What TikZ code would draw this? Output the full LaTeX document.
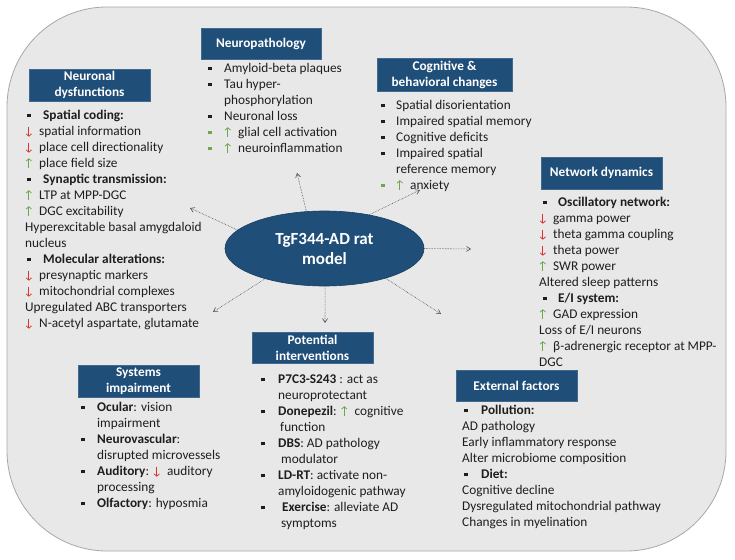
\documentclass[tikz,border=0pt]{standalone}
\usepackage{fontspec}
\setmainfont{Carlito}
\usetikzlibrary{arrows.meta,shapes.geometric}
\definecolor{bgc}{HTML}{E8E8E8}
\definecolor{bordc}{HTML}{A8A8A8}
\definecolor{navy}{HTML}{1F4E79}
\definecolor{redc}{HTML}{D9342B}
\definecolor{greenc}{HTML}{6AA84F}
\definecolor{txt}{HTML}{1E1E1E}
\newcommand{\sqb}[1][txt]{\textcolor{#1}{\rule[1.8pt]{3.6pt}{3.6pt}}}
\newcommand{\bul}[2]{\makebox[#2][l]{\hspace{#1}\sqb}}
\newcommand{\gbul}[2]{\makebox[#2][l]{\hspace{#1}\sqb[greenc]}}
\newcommand{\darr}{\makebox[14pt][l]{\hspace{0.5pt}\tikz[baseline=0pt]\draw[redc,line width=0.75pt,-{Straight Barb[length=2.4pt,width=5.5pt]}] (0pt,8.5pt)--(0pt,-1.5pt);}}
\newcommand{\uarr}{\makebox[14pt][l]{\hspace{0.5pt}\tikz[baseline=0pt]\draw[greenc,line width=0.75pt,-{Straight Barb[length=2.4pt,width=5.5pt]}] (0pt,-1pt)--(0pt,9pt);}}
\tikzset{
  titlebox/.style={fill=navy, draw=navy!85!white, line width=0.6pt, text=white,
    font=\fontsize{13.3}{16}\selectfont\bfseries, align=center, inner sep=0pt},
  body/.style={anchor=north west, inner sep=0pt, align=left,
    font=\fontsize{13.3}{16}\selectfont, text=txt},
  conn/.style={densely dotted, draw=black!70, line width=0.6pt,
    -{Straight Barb[length=4pt,width=5pt]}}
}
\begin{document}
\begin{tikzpicture}[x=1pt,y=-1pt]
\useasboundingbox (0,0) rectangle (735,559);
\fill[white] (0,0) rectangle (735,559);
\draw[fill=bgc, draw=bordc, line width=0.8pt, rounded corners=100pt] (7,7) rectangle (726,551);

% title boxes
\node[titlebox, minimum width=121pt, minimum height=32pt] (tnd) at (89.5,85) {Neuronal\\dysfunctions};
\node[titlebox, minimum width=120pt, minimum height=31pt] (tnp) at (261,43.5) {Neuropathology};
\node[titlebox, minimum width=135pt, minimum height=33pt] (tcg) at (444.5,74.5) {Cognitive \&\\behavioral changes};
\node[titlebox, minimum width=121pt, minimum height=32pt] (tnw) at (601.5,173) {Network dynamics};
\node[titlebox, minimum width=121pt, minimum height=32pt] (tsy) at (138.5,381) {Systems\\impairment};
\node[titlebox, minimum width=121pt, minimum height=31pt] (tin) at (312.5,347.5) {Potential\\interventions};
\node[titlebox, minimum width=121pt, minimum height=31pt] (tex) at (516.5,385.5) {External factors};

% bodies
\node[body] (bnd) at (25,107.8) {\strut\bul{2pt}{18pt}\textbf{Spatial coding:}\\
\darr spatial information\\
\darr place cell directionality\\
\uarr place field size\\
\bul{2pt}{18pt}\textbf{Synaptic transmission:}\\
\uarr LTP at MPP-DGC\\
\uarr DGC excitability\\
Hyperexcitable basal amygdaloid\\
nucleus\\
\bul{2pt}{18pt}\textbf{Molecular alterations:}\\
\darr presynaptic markers\\
\darr mitochondrial complexes\\
Upregulated ABC transporters\\
\darr N-acetyl aspartate, glutamate};

\node[body] (bnp) at (208,60.8) {\strut\bul{0pt}{16pt}Amyloid-beta plaques\\
\bul{0pt}{16pt}Tau hyper-\\
\hspace*{16pt}phosphorylation\\
\bul{0pt}{16pt}Neuronal loss\\
\gbul{0pt}{16pt}\uarr glial cell activation\\
\gbul{0pt}{16pt}\uarr neuroinflammation};

\node[body] (bcg) at (381,97.8) {\strut\bul{0pt}{15pt}Spatial disorientation\\
\bul{0pt}{15pt}Impaired spatial memory\\
\bul{0pt}{15pt}Cognitive deficits\\
\bul{0pt}{15pt}Impaired spatial\\
\hspace*{15pt}reference memory\\
\gbul{0pt}{15pt}\uarr anxiety};

\node[body] (bnw) at (539,194.8) {\strut\bul{4pt}{19pt}\textbf{Oscillatory network:}\\
\darr gamma power\\
\darr theta gamma coupling\\
\darr theta power\\
\uarr SWR power\\
Altered sleep patterns\\
\bul{4pt}{19pt}\textbf{E/I system:}\\
\uarr GAD expression\\
Loss of E/I neurons\\
\uarr β-adrenergic receptor at MPP-\\
DGC};

\node[body] (bsy) at (81,399.8) {\strut\bul{0pt}{16pt}\textbf{Ocular}: vision\\
\hspace*{16pt}impairment\\
\bul{0pt}{16pt}\textbf{Neurovascular}:\\
\hspace*{16pt}disrupted microvessels\\
\bul{0pt}{16pt}\textbf{Auditory}: \darr auditory\\
\hspace*{16pt}processing\\
\bul{0pt}{16pt}\textbf{Olfactory}: hyposmia};

\node[body] (bin) at (261,371.8) {\strut\bul{0pt}{17pt}\textbf{P7C3-S243} : act as\\
\hspace*{17pt}neuroprotectant\\
\bul{0pt}{17pt}\textbf{Donepezil}: \uarr cognitive\\
\hspace*{19pt}function\\
\bul{0pt}{17pt}\textbf{DBS}: AD pathology\\
\hspace*{20pt}modulator\\
\bul{0pt}{17pt}\textbf{LD-RT}: activate non-\\
\hspace*{17pt}amyloidogenic pathway\\
\bul{0pt}{21pt}\textbf{Exercise}: alleviate AD\\
\hspace*{20pt}symptoms};

\node[body] (bex) at (462,402.8) {\strut\bul{2pt}{19pt}\textbf{Pollution:}\\
AD pathology\\
Early inflammatory response\\
Alter microbiome composition\\
\bul{2pt}{19pt}\textbf{Diet:}\\
Cognitive decline\\
Dysregulated mitochondrial pathway\\
Changes in myelination};

% center
\node[ellipse, fill=navy, draw=navy!80!black, line width=0.6pt, minimum width=199pt, minimum height=75pt,
  inner sep=0pt, text=white, font=\fontsize{17}{20}\selectfont\bfseries, align=center]
  (ell) at (324.5,248.5) {TgF344-AD rat\\model};

\coordinate (e1) at (190,208);
\coordinate (e2) at (297,173);
\coordinate (e3) at (420,190);
\coordinate (e4) at (471,249);
\coordinate (e5) at (441,314);
\coordinate (e6) at (325,323);
\coordinate (e7) at (213,312);
\draw[conn] (ell.168) -- (e1);
\draw[conn] (ell.116) -- (e2);
\draw[conn] (ell.37) -- (e3);
\draw[conn] (ell.0) -- (e4);
\draw[conn] (ell.-26) -- (e5);
\draw[conn] (ell.-89) -- (e6);
\draw[conn] (ell.-153) -- (e7);
\end{tikzpicture}
\end{document}
